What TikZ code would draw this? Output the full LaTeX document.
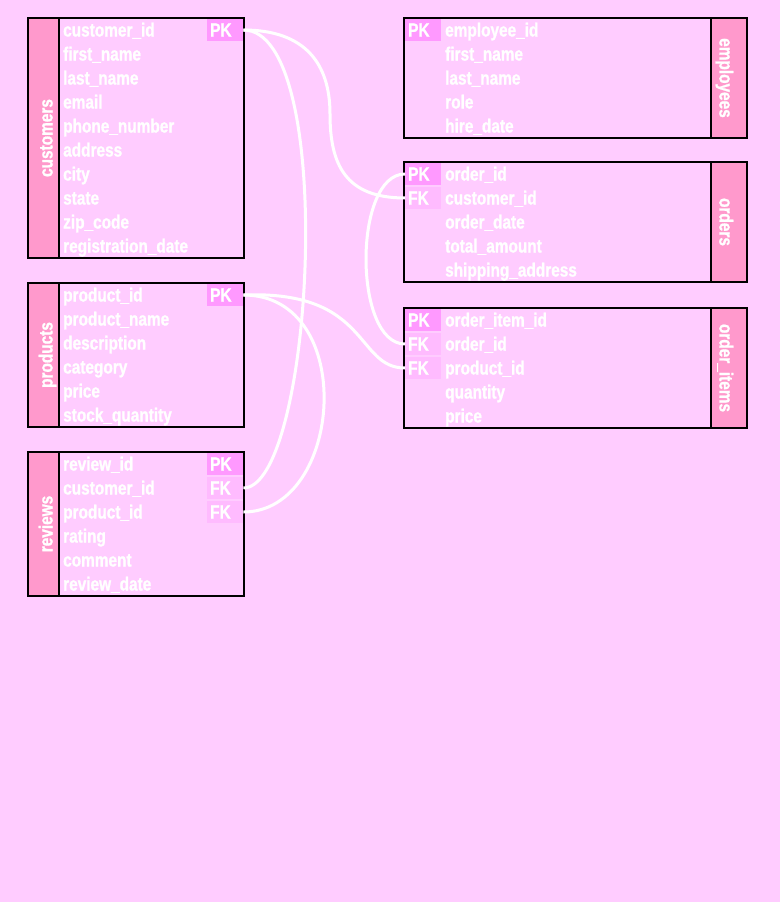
\documentclass[tikz,border=0pt]{standalone}
\usepackage{fontspec}
\usepackage{tikz}
\newfontfamily\erfont[FakeStretch=0.81,FakeBold=1]{Liberation Sans}
\definecolor{bgpink}{HTML}{FFCCFF}
\definecolor{bandpink}{HTML}{FF99CC}
\definecolor{pkpink}{HTML}{FF99FF}
\definecolor{fkpink}{HTML}{FFBBFF}
\tikzset{
  field/.style={anchor=west,inner sep=0pt,text=white,font={\erfont\bfseries\fontsize{19pt}{19pt}\selectfont},text height=15pt,text depth=2pt},
  keybox/.style={field,minimum height=22pt,text width=30pt,inner xsep=3pt,inner ysep=0pt,align=left},
  pk/.style={keybox,fill=pkpink},
  fk/.style={keybox,fill=fkpink},
  tabname/.style={field,anchor=center},
  table/.style={draw=black,line width=2pt},
  link/.style={draw=white,line width=3pt}
}

\begin{document}
\begin{tikzpicture}[x=1pt,y=-1pt]
  \useasboundingbox[fill=bgpink] (0,0) rectangle (780,902);
  \coordinate (turn1) at (330,114);

  % customers
  \fill[bandpink] (28,18) rectangle (59,258);
  \draw[table] (59,18) -- (59,258);
  \draw[table] (28,18) rectangle (244,258);
  \node[tabname,rotate=90] (custname) at (46,138) {customers};
  \node[pk] (custpk) at (207,30) {PK};
  \node[field] (cust1) at (63,30) {customer\_id};
  \node[field] (cust2) at (63,54) {first\_name};
  \node[field] (cust3) at (63,78) {last\_name};
  \node[field] (cust4) at (63,102) {email};
  \node[field] (cust5) at (63,126) {phone\_number};
  \node[field] (cust6) at (63,150) {address};
  \node[field] (cust7) at (63,174) {city};
  \node[field] (cust8) at (63,198) {state};
  \node[field] (cust9) at (63,222) {zip\_code};
  \node[field] (cust10) at (63,246) {registration\_date};

  % products
  \fill[bandpink] (28,283) rectangle (59,427);
  \draw[table] (59,283) -- (59,427);
  \draw[table] (28,283) rectangle (244,427);
  \node[tabname,rotate=90] (prodname) at (46,355) {products};
  \node[pk] (prodpk) at (207,295) {PK};
  \node[field] (prod1) at (63,295) {product\_id};
  \node[field] (prod2) at (63,319) {product\_name};
  \node[field] (prod3) at (63,343) {description};
  \node[field] (prod4) at (63,367) {category};
  \node[field] (prod5) at (63,391) {price};
  \node[field] (prod6) at (63,415) {stock\_quantity};

  % reviews
  \fill[bandpink] (28,452) rectangle (59,596);
  \draw[table] (59,452) -- (59,596);
  \draw[table] (28,452) rectangle (244,596);
  \node[tabname,rotate=90] (revname) at (46,524) {reviews};
  \node[pk] (revpk) at (207,464) {PK};
  \node[fk] (revfka) at (207,488) {FK};
  \node[fk] (revfkb) at (207,512) {FK};
  \node[field] (rev1) at (63,464) {review\_id};
  \node[field] (rev2) at (63,488) {customer\_id};
  \node[field] (rev3) at (63,512) {product\_id};
  \node[field] (rev4) at (63,536) {rating};
  \node[field] (rev5) at (63,560) {comment};
  \node[field] (rev6) at (63,584) {review\_date};

  % employees
  \fill[bandpink] (711,18) rectangle (747,138);
  \draw[table] (711,18) -- (711,138);
  \draw[table] (404,18) rectangle (747,138);
  \node[tabname,rotate=-90] (empname) at (726,78) {employees};
  \node[pk] (emppk) at (405,30) {PK};
  \node[field] (emp1) at (445,30) {employee\_id};
  \node[field] (emp2) at (445,54) {first\_name};
  \node[field] (emp3) at (445,78) {last\_name};
  \node[field] (emp4) at (445,102) {role};
  \node[field] (emp5) at (445,126) {hire\_date};

  % orders
  \fill[bandpink] (711,162) rectangle (747,282);
  \draw[table] (711,162) -- (711,282);
  \draw[table] (404,162) rectangle (747,282);
  \node[tabname,rotate=-90] (ordname) at (726,222) {orders};
  \node[pk] (ordpk) at (405,174) {PK};
  \node[fk] (ordfk) at (405,198) {FK};
  \node[field] (ord1) at (445,174) {order\_id};
  \node[field] (ord2) at (445,198) {customer\_id};
  \node[field] (ord3) at (445,222) {order\_date};
  \node[field] (ord4) at (445,246) {total\_amount};
  \node[field] (ord5) at (445,270) {shipping\_address};

  % order_items
  \fill[bandpink] (711,308) rectangle (747,428);
  \draw[table] (711,308) -- (711,428);
  \draw[table] (404,308) rectangle (747,428);
  \node[tabname,rotate=-90] (oiname) at (726,368) {order\_items};
  \node[pk] (oipk) at (405,320) {PK};
  \node[fk] (oifka) at (405,344) {FK};
  \node[fk] (oifkb) at (405,368) {FK};
  \node[field] (oi1) at (445,320) {order\_item\_id};
  \node[field] (oi2) at (445,344) {order\_id};
  \node[field] (oi3) at (445,368) {product\_id};
  \node[field] (oi4) at (445,392) {quantity};
  \node[field] (oi5) at (445,416) {price};

  % Relations
  \draw[link] (custpk.east) .. controls +(62,0) and +(0,-50) .. (turn1)
    .. controls +(0,50) and +(-60,0) .. (ordfk.west);
  \draw[link] (custpk.east) .. controls +(95,0) and +(70,0) .. (revfka.east);
  \draw[link] (ordpk.west) .. controls +(-52,0) and +(-52,0) .. (oifka.west);
  \draw[link] (prodpk.east) .. controls +(127,-5) and +(-50,0) .. (oifkb.west);
  \draw[link] (prodpk.east) .. controls +(115,0) and +(100,0) .. (revfkb.east);
\end{tikzpicture}
\end{document}
